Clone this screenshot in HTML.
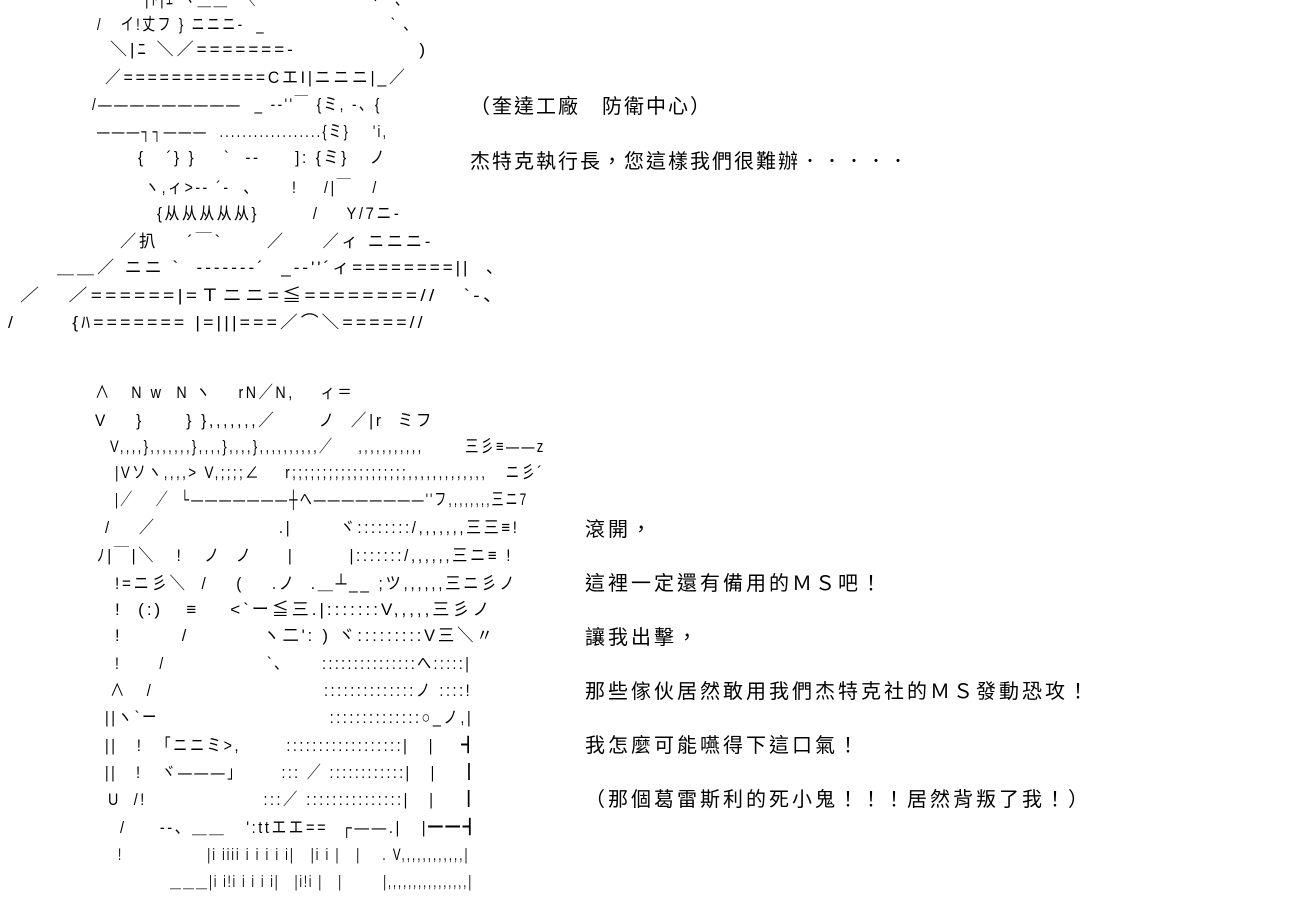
<!DOCTYPE html>
<html><head><meta charset="utf-8"><style>
body{margin:0;background:#fff;width:1300px;height:920px;overflow:hidden;position:relative;}
.a{position:absolute;white-space:pre;font-family:"Liberation Sans","Noto Sans CJK JP",sans-serif;font-size:17px;line-height:20px;letter-spacing:3px;color:#000;transform-origin:0 0;}
.t{position:absolute;white-space:pre;font-family:"Liberation Sans","Noto Sans CJK TC",sans-serif;font-size:20px;line-height:24px;letter-spacing:2px;color:#000;}
.b{letter-spacing:3px;}
</style></head><body>
<div class="a" style="left:145px;top:-10px;transform:scaleX(0.8)">|ﾄ|ｴ ヽ＿＿  ＼              ｀ 丶  、</div>
<div class="a" style="left:97px;top:15px;transform:scaleX(0.77)">/   イ!丈フ } ニニニ-  _                     ` 、</div>
<div class="a" style="left:110px;top:40px">＼|ﾆ ＼／=======-                )</div>
<div class="a" style="left:105px;top:68px;transform:scaleX(0.93)">／============CエI|ニニニ|_／</div>
<div class="a" style="left:92px;top:95px;transform:scaleX(0.8)">/—————————  _ -‐''￣ {ミ, ‐、{</div>
<div class="a" style="left:97px;top:122px;transform:scaleX(0.74)">———┐┐———  ..................{ミ}    'i,</div>
<div class="a" style="left:138px;top:148px;transform:scaleX(0.89)">{   ´} }    `  ‐-     ]: {ミ}   ノ</div>
<div class="a" style="left:145px;top:178px;transform:scaleX(0.83)">ヽ,ィ>‐- ´-  、     !    /|￣   /</div>
<div class="a" style="left:157px;top:204px;transform:scaleX(0.87)">{从从从从从}        /    Y/7ニ-</div>
<div class="a" style="left:120px;top:232px;transform:scaleX(0.95)">／扒    ´￣`      ／     ／ィ ニニニ-</div>
<div class="a" style="left:57px;top:258px">＿＿／ ニニ `  ‐-----‐´  _-‐''´ィ========||  、</div>
<div class="a" style="left:20px;top:286px;transform:scaleX(1.12)">／   ／======|=Ｔニニ=≦========//   `‐、</div>
<div class="a" style="left:8px;top:313px;transform:scaleX(1.04)">/       {ﾊ======= |=|||===／⌒＼=====//</div>

<div class="t" style="left:470px;top:95px">（奎達工廠　防衛中心）</div>
<div class="t" style="left:470px;top:150px">杰特克執行長，您這樣我們很難辦．．．．．</div>

<div class="a" style="left:95px;top:383px;transform:scaleX(0.84)">∧   N w  N ヽ    rN／N,    ィ＝</div>
<div class="a" style="left:95px;top:411px;transform:scaleX(0.91)">V    }      } },,,,,,,／      ノ  ／|r  ミフ</div>
<div class="a" style="left:110px;top:437px;transform:scaleX(0.77)">V,,,,},,,,,,,},,,,},,,,},,,,,,,,,,／    ,,,,,,,,,,,       三彡≡——z</div>
<div class="a" style="left:115px;top:463px;transform:scaleX(0.79)">|Vソヽ,,,,> V,;;;;∠    r;;;;;;;;;;;;;;;;;;;,,,,,,,,,,,,,   ニ彡´</div>
<div class="a" style="left:115px;top:490px;transform:scaleX(0.70)">|／    ／  └———————┼へ————————''フ,,,,,,,,三ニ7</div>
<div class="a" style="left:105px;top:518px;transform:scaleX(0.88)">/    ／                  .|       ヾ::::::::/,,,,,,,三三≡!</div>
<div class="a" style="left:97px;top:546px;transform:scaleX(0.89)">ﾉ|￣|＼   !   ノ  ノ     |        |:::::::/,,,,,,三ニ≡ !</div>
<div class="a" style="left:115px;top:574px;transform:scaleX(0.9)">!=ニ彡＼  /    (    .ノ  .＿┴__ ;ツ,,,,,,三ニ彡ノ</div>
<div class="a" style="left:115px;top:600px">!  (:)   ≡    <`ー≦三.|:::::::V,,,,,三彡ノ</div>
<div class="a" style="left:115px;top:626px;transform:scaleX(0.96)">!        /          ヽ二': ) ヾ:::::::::V三＼〃</div>
<div class="a" style="left:115px;top:654px;transform:scaleX(0.82)">!      /                `、     :::::::::::::::へ:::::|</div>
<div class="a" style="left:110px;top:681px;transform:scaleX(0.85)">∧   /                          ::::::::::::::ノ ::::!</div>
<div class="a" style="left:105px;top:708px;transform:scaleX(0.85)">||ヽ`ー                          ::::::::::::::○_ノ,|</div>
<div class="a" style="left:105px;top:736px;transform:scaleX(0.84)">||   !  「ニニミ>,       ::::::::::::::::::|   |    ┫</div>
<div class="a" style="left:105px;top:763px;transform:scaleX(0.82)">||   !   ヾ———」      ::: ／ ::::::::::::|   |    ┃</div>
<div class="a" style="left:108px;top:790px;transform:scaleX(0.84)">U  /!                  :::／ :::::::::::::::|   |    ┃</div>
<div class="a" style="left:120px;top:818px;transform:scaleX(0.86)">/     ‐-、＿＿   ':ttエエ==  ┌——.|   |━━┫</div>
<div class="a" style="left:118px;top:845px;transform:scaleX(0.68)">!                |i iiii i i i i i|   |i i |   |    . V,,,,,,,,,,,,|</div>
<div class="a" style="left:170px;top:872px;transform:scaleX(0.65)">＿＿＿|i i!i i i i i|   |i!i |   |        |,,,,,,,,,,,,,,,,|</div>

<div class="t b" style="left:585px;top:518px">滾開，</div>
<div class="t b" style="left:585px;top:572px">這裡一定還有備用的ＭＳ吧！</div>
<div class="t b" style="left:585px;top:626px">讓我出擊，</div>
<div class="t b" style="left:585px;top:680px">那些傢伙居然敢用我們杰特克社的ＭＳ發動恐攻！</div>
<div class="t b" style="left:585px;top:734px">我怎麼可能嚥得下這口氣！</div>
<div class="t b" style="left:585px;top:788px">（那個葛雷斯利的死小鬼！！！居然背叛了我！）</div>
</body></html>
